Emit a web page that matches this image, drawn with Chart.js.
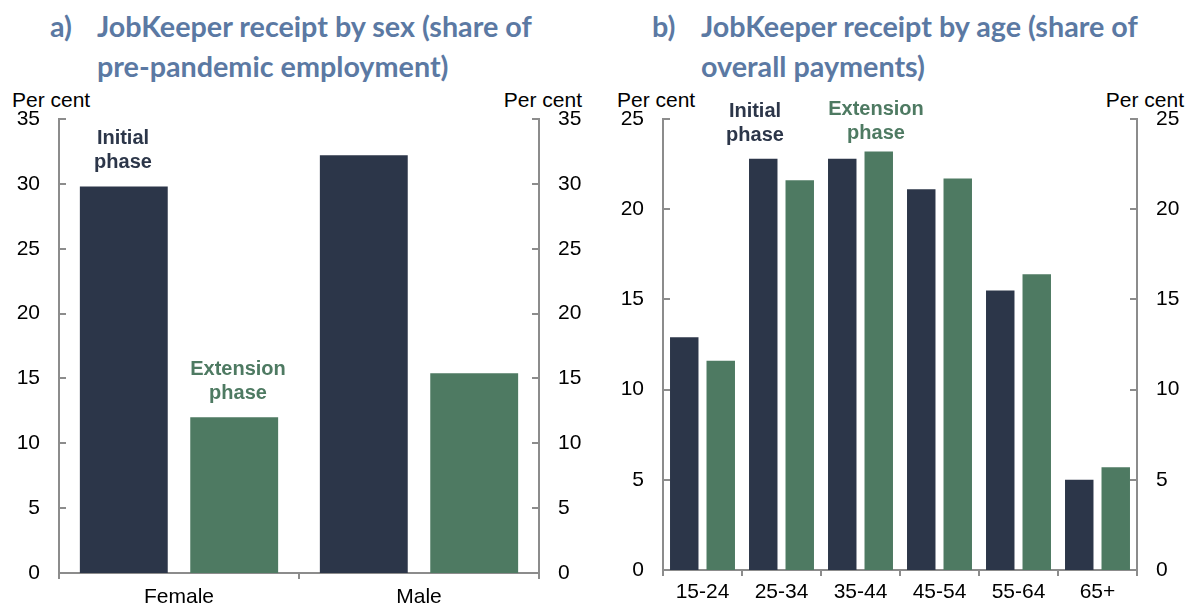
<!DOCTYPE html>
<html><head><meta charset="utf-8">
<script src="https://cdn.jsdelivr.net/npm/chart.js@4.4.0/dist/chart.umd.min.js"></script>
<style>
html,body{margin:0;padding:0;background:#fff;}
body{width:1186px;height:608px;position:relative;overflow:hidden;font-family:"Liberation Sans",Arial,sans-serif;}
.t{position:absolute;font-family:Lato,"Open Sans",sans-serif;font-weight:700;color:#5B79A3;white-space:nowrap;line-height:1;}
.pc{position:absolute;font-size:21px;color:#000;white-space:nowrap;line-height:1;}
.ann{position:absolute;font-weight:700;font-size:20px;text-align:center;line-height:24px;white-space:nowrap;transform:translateX(-50%);}
canvas{position:absolute;top:0;}
</style></head>
<body>
<div class="t" id="ta1" style="left:50px;top:12px;">a)</div>
<div class="t" id="ta2" style="left:97px;top:12px;">JobKeeper receipt by sex (share of</div>
<div class="t" id="ta3" style="left:97px;top:52px;">pre-pandemic employment)</div>
<div class="t" id="tb1" style="left:652px;top:12px;">b)</div>
<div class="t" id="tb2" style="left:701px;top:12px;">JobKeeper receipt by age (share of</div>
<div class="t" id="tb3" style="left:701px;top:52px;">overall payments)</div>

<div class="pc" style="left:12px;top:89px;">Per cent</div>
<div class="pc" style="right:604px;top:89px;">Per cent</div>
<div class="pc" style="left:617px;top:89px;">Per cent</div>
<div class="pc" style="right:2px;top:89px;">Per cent</div>

<canvas id="ca" width="593" height="608" style="left:0;"></canvas>
<canvas id="cb" width="593" height="608" style="left:593px;"></canvas>

<div class="ann" style="left:123px;top:125px;color:#2C3649;">Initial<br>phase</div>
<div class="ann" style="left:238px;top:356px;color:#4E7A62;">Extension<br>phase</div>
<div class="ann" style="left:755px;top:98px;color:#2C3649;">Initial<br>phase</div>
<div class="ann" style="left:876px;top:96px;color:#4E7A62;">Extension<br>phase</div>

<script>
// ---- data ----
const sexCategories = ['Female', 'Male'];
const sexInitial = [29.8, 32.2];
const sexExtension = [12.0, 15.4];
const sexAxisMax = 35;

const ageCategories = ['15-24', '25-34', '35-44', '45-54', '55-64', '65+'];
const ageInitial = [12.9, 22.8, 22.8, 21.1, 15.5, 5.0];
const ageExtension = [11.6, 21.6, 23.2, 21.7, 16.4, 5.7];
const ageAxisMax = 25;

const tickStep = 5;
const seriesNames = ['Initial phase', 'Extension phase'];

// ---- styles ----
const NAVY = '#2C3649';
const GREEN = '#4E7A62';
const AXIS = '#8C8C8C';
const FONT = {family: '"Liberation Sans", Arial, sans-serif', size: 21};

// fit title font so line widths match
(function(){
  const c = document.createElement('canvas').getContext('2d');
  c.font = '700 100px Lato';
  const w1 = c.measureText('JobKeeper receipt by sex (share of').width;
  const w2 = c.measureText('JobKeeper receipt by age (share of').width;
  const s = Math.min(100 * 436 / w1, 100 * 439 / w2);
  document.querySelectorAll('.t').forEach(e => e.style.fontSize = s.toFixed(2) + 'px');
})();

const innerTicks = {
  id: 'innerTicks',
  afterDraw(chart) {
    const ctx = chart.ctx;
    ['y', 'y2'].forEach(id => {
      const s = chart.scales[id];
      if (!s) return;
      const x = id === 'y' ? s.right : s.left;
      const dir = id === 'y' ? 1 : -1;
      ctx.save();
      ctx.strokeStyle = AXIS;
      ctx.lineWidth = 2;
      s.ticks.forEach(t => {
        const y = Math.round(s.getPixelForValue(t.value));
        ctx.beginPath();
        ctx.moveTo(x, y);
        ctx.lineTo(x + dir * 7, y);
        ctx.stroke();
      });
      ctx.restore();
    });
  }
};

function yAxis(pos, max, width) {
  return {
    type: 'linear', position: pos, min: 0, max: max,
    ticks: {stepSize: tickStep, color: '#000', font: FONT, padding: 19},
    grid: {display: false, drawTicks: false},
    border: {display: true, color: AXIS, width: 2},
    afterFit(scale) { scale.width = width; }
  };
}

function makeChart(id, cats, a, b, max, g) {
  new Chart(document.getElementById(id), {
    type: 'bar',
    data: {
      labels: cats,
      datasets: [
        {label: seriesNames[0], data: a, backgroundColor: NAVY, yAxisID: 'y'},
        {label: seriesNames[1], data: b, backgroundColor: GREEN, yAxisID: 'y'}
      ]
    },
    options: {
      responsive: false, animation: false, devicePixelRatio: 1, events: [],
      categoryPercentage: g.cat, barPercentage: g.bar,
      layout: {padding: {top: g.top, left: 0, right: 0, bottom: 0}},
      plugins: {legend: {display: false}, tooltip: {enabled: false}, title: {display: false}},
      scales: {
        x: {
          type: 'category',
          ticks: {color: '#000', font: FONT, padding: g.xpad},
          grid: {display: true, offset: true, drawOnChartArea: false, drawTicks: true, tickLength: 6, color: AXIS, lineWidth: 2},
          border: {display: true, color: AXIS, width: 2},
          afterFit(scale) { scale.height = g.bottom; }
        },
        y: yAxis('left', max, g.left),
        y2: yAxis('right', max, g.right)
      }
    },
    plugins: [innerTicks]
  });
}

makeChart('ca', sexCategories, sexInitial, sexExtension, sexAxisMax,
  {top: 119, left: 59, right: 54, bottom: 35, cat: 0.92, bar: 0.796, xpad: 6});
makeChart('cb', ageCategories, ageInitial, ageExtension, ageAxisMax,
  {top: 119, left: 70, right: 49, bottom: 38, cat: 0.924, bar: 0.78, xpad: 4});
</script>
</body></html>
